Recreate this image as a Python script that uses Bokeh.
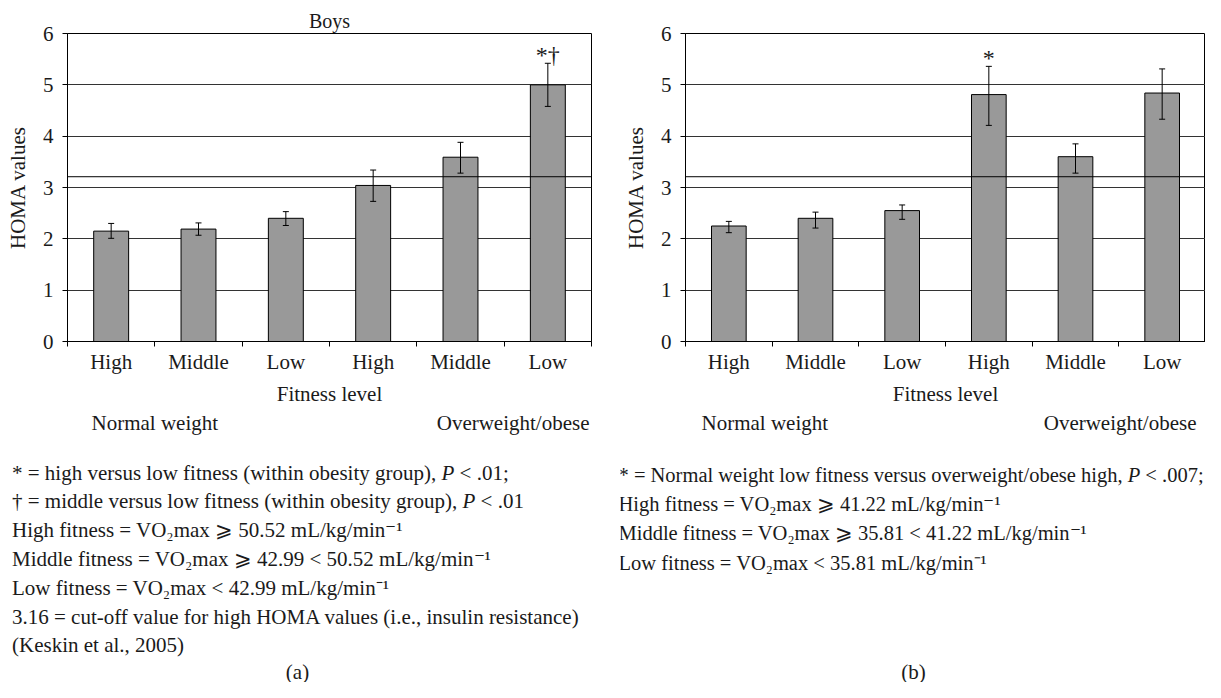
from bokeh.plotting import figure
from bokeh.models import (Range1d, FixedTicker, CustomJSTickFormatter, Span,
                          Whisker, ColumnDataSource, TeeHead)
from bokeh.layouts import column, row
from bokeh.embed import file_html
from bokeh.resources import INLINE
from bokeh.core.properties import value

# ---------------- data ----------------
categories = ["High", "Middle", "Low", "High", "Middle", "Low"]
groups = ["Normal weight", "Overweight/obese"]
y_ticks = [0, 1, 2, 3, 4, 5, 6]

boys_homa = [2.15, 2.19, 2.40, 3.04, 3.59, 5.00]
boys_upper = [2.30, 2.31, 2.53, 3.34, 3.88, 5.42]
boys_lower = [2.01, 2.07, 2.26, 2.73, 3.28, 4.58]
boys_marks = ["", "", "", "", "", "*†"]

panel_b_homa = [2.25, 2.40, 2.55, 4.81, 3.60, 4.84]
panel_b_upper = [2.34, 2.52, 2.66, 5.36, 3.85, 5.31]
panel_b_lower = [2.12, 2.21, 2.38, 4.21, 3.28, 4.33]
panel_b_marks = ["", "", "", "*", "", ""]

cutoff_line = 3.21

notes_a = [
    "* = high versus low fitness (within obesity group), P < .01;",
    "† = middle versus low fitness (within obesity group), P < .01",
    "High fitness = VO₂max ⩾ 50.52 mL/kg/min⁻¹",
    "Middle fitness = VO₂max ⩾ 42.99 < 50.52 mL/kg/min⁻¹",
    "Low fitness = VO₂max < 42.99 mL/kg/min⁻¹",
    "3.16 = cut-off value for high HOMA values (i.e., insulin resistance)",
    "(Keskin et al., 2005)",
]
notes_b = [
    "* = Normal weight low fitness versus overweight/obese high, P < .007;",
    "High fitness = VO₂max ⩾ 41.22 mL/kg/min⁻¹",
    "Middle fitness = VO₂max ⩾ 35.81 < 41.22 mL/kg/min⁻¹",
    "Low fitness = VO₂max < 35.81 mL/kg/min⁻¹",
]
panel_tags = ["(a)", "(b)"]

FONT = "Liberation Serif"
FS = "21px"
INK = "#1a1a1a"
PANEL_H = 408

# Times/Liberation Serif advance widths (per 1000 em) used to place the italic P
_W = {'*': 500, '†': 500, '=': 564, ' ': 250, 'h': 500, 'i': 278, 'g': 500,
      'v': 500, 'e': 444, 'r': 333, 's': 389, 'u': 500, 'l': 278, 'o': 500,
      'w': 722, 'f': 333, 't': 278, 'n': 500, '(': 333, 'b': 500, 'y': 500,
      'p': 500, ')': 333, ',': 250, 'm': 778, 'd': 500, 'a': 444, 'N': 722,
      '/': 278, 'c': 444}
ITALIC_P = 611


def text_width(s, size):
    return sum(_W.get(ch, 500) for ch in s) * size / 1000.0


def make_panel(title, vals, upper, lower, marks, width, ml, mr):
    p = figure(width=width, height=PANEL_H, title=title,
               x_range=Range1d(0, len(categories)), y_range=Range1d(0, 6),
               output_backend="svg", toolbar_location=None, tools="",
               min_border_left=ml, min_border_right=mr,
               min_border_top=33, min_border_bottom=PANEL_H - 341)
    if title is not None:
        p.title.align = "center"
        p.title.text_font = FONT
        p.title.text_font_size = "20px"
        p.title.text_font_style = "normal"
        p.title.text_color = INK
        p.title.standoff = 0
        p.title.vertical_align = "top"
    p.background_fill_color = "white"
    p.border_fill_color = "white"
    p.outline_line_color = "black"
    p.outline_line_alpha = 1.0
    p.outline_line_width = 1

    xs = [i + 0.5 for i in range(len(categories))]
    src = ColumnDataSource(dict(x=xs, top=vals, upper=upper, lower=lower, mark=marks))

    p.vbar(x="x", top="top", width=0.4, source=src,
           fill_color="#999999", line_color="black", line_width=1)

    p.add_layout(Span(location=cutoff_line, dimension="width",
                      line_color="black", line_width=1))

    w = Whisker(base="x", upper="upper", lower="lower", source=src,
                line_color="black", line_width=1, level="annotation",
                upper_head=TeeHead(size=6, line_color="black", line_width=1),
                lower_head=TeeHead(size=6, line_color="black", line_width=1))
    p.add_layout(w)

    p.text(x="x", y="upper", text="mark", source=src,
           text_font=value(FONT), text_font_size="24px", text_color=INK,
           text_align="center", text_baseline="alphabetic", y_offset=-8)

    # x axis: labels at bar centres, tick marks at category boundaries
    xa = p.xaxis[0]
    xa.ticker = FixedTicker(ticks=xs, minor_ticks=list(range(len(categories) + 1)))
    xa.formatter = CustomJSTickFormatter(args=dict(labels=categories),
                                         code="return labels[Math.floor(tick)];")
    xa.major_tick_in = 0
    xa.major_tick_out = 0
    xa.minor_tick_in = 0
    xa.minor_tick_out = 5
    xa.minor_tick_line_color = "black"
    xa.axis_line_color = "black"
    xa.axis_label = "Fitness level"
    xa.major_label_standoff = 3
    xa.axis_label_standoff = 5

    ya = p.yaxis[0]
    ya.ticker = FixedTicker(ticks=y_ticks, minor_ticks=[])
    ya.major_tick_in = 0
    ya.major_tick_out = 5
    ya.major_tick_line_color = "black"
    ya.axis_line_color = "black"
    ya.axis_label = "HOMA values"
    ya.major_label_standoff = 9
    ya.axis_label_standoff = 10

    for ax in (xa, ya):
        ax.major_label_text_font = FONT
        ax.major_label_text_font_size = FS
        ax.major_label_text_color = INK
        ax.axis_label_text_font = FONT
        ax.axis_label_text_font_size = FS
        ax.axis_label_text_font_style = "normal"
        ax.axis_label_text_color = INK

    p.xgrid.visible = False
    p.ygrid.ticker = FixedTicker(ticks=y_ticks)
    p.ygrid.grid_line_color = "#333333"
    p.ygrid.grid_line_width = 1
    return p


def make_notes(x0, x1, left_group_x, right_group_x, notes, note_x, note_y0, step,
               note_size, tag, tag_x):
    n = figure(width=x1 - x0, height=682 - PANEL_H, title=None,
               x_range=Range1d(x0, x1), y_range=Range1d(682, PANEL_H),
               output_backend="svg", toolbar_location=None, tools="",
               x_axis_location=None, y_axis_location=None, min_border=0)
    n.grid.visible = False
    n.outline_line_color = None
    n.background_fill_color = "white"
    n.border_fill_color = "white"
    common = dict(text_font=value(FONT), text_color=INK, text_baseline="middle")
    n.text(x=[left_group_x], y=[422], text=[groups[0]], text_align="left",
           text_font_size=FS, **common)
    n.text(x=[right_group_x], y=[422], text=[groups[1]], text_align="right",
           text_font_size=FS, **common)

    size_str = "%gpx" % note_size
    xs, ys, txt = [], [], []
    ix, iy = [], []
    for i, line in enumerate(notes):
        y = note_y0 + step * i
        k = line.find("P <")
        if k >= 0:
            pre, post = line[:k], line[k + 1:]
            w_pre = text_width(pre, note_size)
            x_post = (note_x + w_pre + ITALIC_P * note_size / 1000.0
                      + text_width(" ", note_size))
            xs += [note_x, x_post]
            ys += [y, y]
            txt += [pre.rstrip(), post.strip()]
            ix.append(note_x + w_pre)
            iy.append(y)
        else:
            xs.append(note_x)
            ys.append(y)
            txt.append(line)
    n.text(x=xs, y=ys, text=txt, text_align="left", text_font_size=size_str, **common)
    n.text(x=ix, y=iy, text=["P"] * len(ix), text_align="left",
           text_font_size=size_str, text_font_style="italic", **common)
    n.text(x=[tag_x], y=[671], text=[tag], text_align="center",
           text_font_size=FS, **common)
    return n


pa = make_panel("Boys", boys_homa, boys_upper, boys_lower, boys_marks, 620, 67, 29)
pb = make_panel(None, panel_b_homa, panel_b_upper, panel_b_lower, panel_b_marks, 585, 55, 0)
na = make_notes(0, 620, 91, 589, notes_a, 11.5, 472, 28.8, 21, panel_tags[0], 297)
nb = make_notes(620, 1205, 701, 1196, notes_b, 618, 474, 29.4, 20.5, panel_tags[1], 913)

layout = column(row(pa, pb, spacing=0), row(na, nb, spacing=0), spacing=0)

open("out.html", "w").write(file_html(layout, INLINE))
